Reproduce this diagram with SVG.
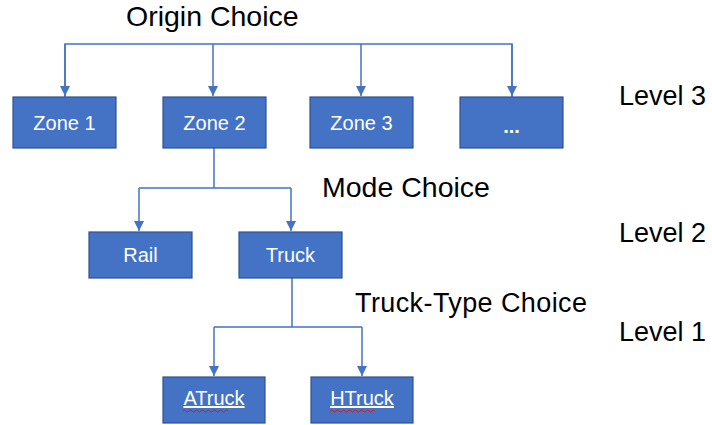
<svg xmlns="http://www.w3.org/2000/svg" width="712" height="425" viewBox="0 0 712 425">
  <defs>
    <marker id="arrow" viewBox="0 0 10 10" refX="10" refY="5" markerWidth="10" markerHeight="10" markerUnits="userSpaceOnUse" orient="auto">
      <path d="M0,0 L10,5 L0,10 Z" fill="#4472C4"/>
    </marker>
    <path id="squiggle" d="M0,0 q1.5,-2 3,0 t3,0 t3,0 t3,0 t3,0 t3,0 t3,0 t3,0 t3,0 t3,0 t3,0 t3,0 t3,0 t3,0 t3,0" fill="none" stroke="#D02020" stroke-width="1"/>
  </defs>
  <style>
    .box { fill: #4472C4; stroke: #2F528F; stroke-width: 1.2; }
    .lbl { fill: #FFFFFF; font-family: "Liberation Sans", Arial, sans-serif; font-size: 20px; text-anchor: middle; }
    .head { fill: #000000; font-family: "Liberation Sans", Arial, sans-serif; font-size: 27px; }
    .choice { font-size: 28.5px; }
    .conn { fill: none; stroke: #4472C4; stroke-width: 1.5; }
  </style>
  <rect width="712" height="425" fill="#FFFFFF"/>

  <!-- level headings -->
  <text class="head choice" x="126" y="26">Origin Choice</text>
  <text class="head choice" x="322" y="197">Mode Choice</text>
  <text class="head" x="355" y="312" textLength="232">Truck-Type Choice</text>
  <text class="head" x="619" y="105">Level 3</text>
  <text class="head" x="619" y="242">Level 2</text>
  <text class="head" x="619" y="341">Level 1</text>

  <!-- connectors -->
  <g id="connectors">
    <path class="conn" d="M65,97 V44 H512 V97"/>
    <path class="conn" d="M65,44 V96" marker-end="url(#arrow)"/>
    <path class="conn" d="M213,44 V96" marker-end="url(#arrow)"/>
    <path class="conn" d="M361,44 V96" marker-end="url(#arrow)"/>
    <path class="conn" d="M512,44 V96" marker-end="url(#arrow)"/>
    <path class="conn" d="M214,148 V188 M139,188 H291"/>
    <path class="conn" d="M139,188 V231" marker-end="url(#arrow)"/>
    <path class="conn" d="M291,188 V231" marker-end="url(#arrow)"/>
    <path class="conn" d="M292,278 V327 M214,327 H362"/>
    <path class="conn" d="M214,327 V376" marker-end="url(#arrow)"/>
    <path class="conn" d="M362,327 V376" marker-end="url(#arrow)"/>
  </g>

  <!-- level 3: zones -->
  <g id="zone1">
    <rect class="box" x="13" y="97" width="103" height="51"/>
    <text class="lbl" x="64.5" y="130">Zone 1</text>
  </g>
  <g id="zone2">
    <rect class="box" x="163" y="97" width="103" height="51"/>
    <text class="lbl" x="214.5" y="130">Zone 2</text>
  </g>
  <g id="zone3">
    <rect class="box" x="310" y="97" width="103" height="51"/>
    <text class="lbl" x="361.5" y="130">Zone 3</text>
  </g>
  <g id="zone-more">
    <rect class="box" x="460" y="97" width="103" height="51"/>
    <text class="lbl" x="511.5" y="133" font-weight="bold">...</text>
  </g>

  <!-- level 2: modes -->
  <g id="rail">
    <rect class="box" x="89" y="232" width="103" height="46"/>
    <text class="lbl" x="140.5" y="262">Rail</text>
  </g>
  <g id="truck">
    <rect class="box" x="239" y="232" width="103" height="46"/>
    <text class="lbl" x="290.5" y="262">Truck</text>
  </g>

  <!-- level 1: truck types -->
  <g id="atruck">
    <rect class="box" x="163" y="377" width="102" height="46"/>
    <text class="lbl" x="214" y="405" text-decoration="underline">ATruck</text>
    <use href="#squiggle" x="183" y="411"/>
  </g>
  <g id="htruck">
    <rect class="box" x="311" y="377" width="102" height="46"/>
    <text class="lbl" x="362" y="405" text-decoration="underline">HTruck</text>
    <use href="#squiggle" x="330" y="411"/>
  </g>
</svg>
